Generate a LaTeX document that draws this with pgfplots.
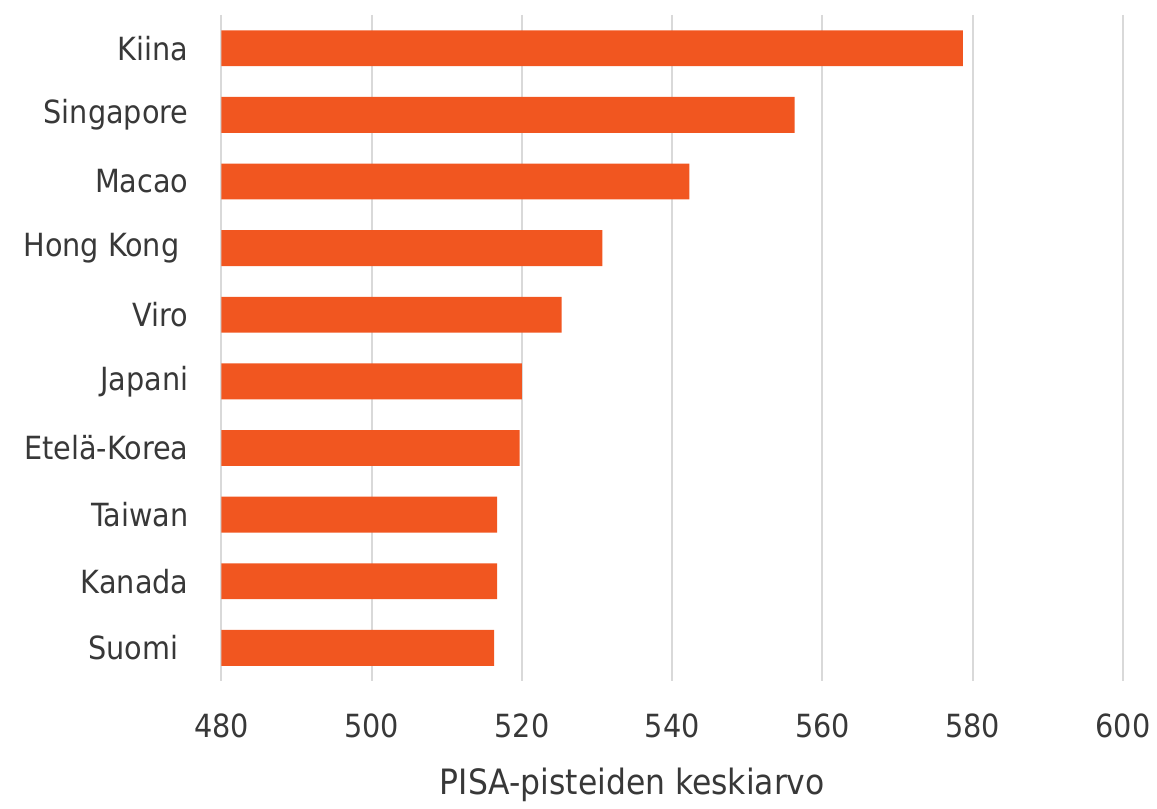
\documentclass[border=0pt]{standalone}
\usepackage{fontspec}
\setmainfont{DejaVu Sans Condensed}
\usepackage{pgfplots}
\pgfplotsset{compat=1.18}
\definecolor{barorange}{RGB}{241,86,32}
\definecolor{gridgray}{RGB}{217,217,217}
\begin{document}
\begin{tikzpicture}
\begin{axis}[
  name=ax,
  scale only axis,
  width=452pt, height=334pt,
  xmin=480, xmax=600,
  ymin=-0.5, ymax=9.5,
  y dir=reverse,
  xtick={480,500,...,600},
  ytick={0,...,9},
  yticklabels={Kiina,Singapore,Macao,{Hong Kong\hspace*{4.5pt}},Viro,Japani,Etelä-Korea,Taiwan,Kanada,{Suomi\hspace*{5pt}}},
  xmajorgrids,
  major grid style={gridgray, line width=1pt},
  axis line style={draw=none},
  major tick length=0pt,
  tick label style={font=\fontsize{16}{19}\selectfont, text=black!78},
  /pgf/number format/assume math mode=true,
  /pgf/number format/set thousands separator={},
  xticklabel style={yshift=-13pt},
  yticklabel style={xshift=-13pt},
  xlabel={PISA-pisteiden keskiarvo},
  xlabel style={font=\fontsize{17.5}{20}\selectfont, text=black!78, yshift=-8pt, xshift=-20pt},
  xbar, bar width=18pt,
]
\addplot[fill=barorange, draw=none] coordinates {
(578.7,0) (556.3,1) (542.3,2) (530.7,3) (525.3,4) (520.0,5) (519.7,6) (516.7,7) (516.7,8) (516.3,9)
};
\end{axis}
\path (ax.south west) ++(-111pt,-59.5pt) coordinate (bl);
\path (ax.north east) ++(15.5pt,7.5pt) coordinate (tr);
\path (bl) rectangle (tr);
\end{tikzpicture}
\end{document}
